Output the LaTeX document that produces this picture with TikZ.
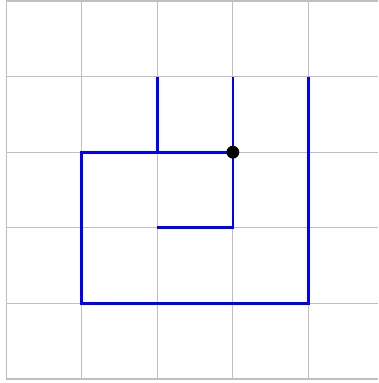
\documentclass[tikz,border=0pt]{standalone}
\begin{document}
\begin{tikzpicture}[x=1cm,y=1cm,
  gridline/.style={draw=black!25, line width=0.4pt},
  bluepath/.style={draw=blue, line width=1pt},
  dotnode/.style={circle, fill=black, inner sep=0pt, minimum size=0.17cm}]
\useasboundingbox (-0.08,-0.053) rectangle (4.92,5.013);
\foreach \i in {0,...,4} \draw[gridline] (\i,0) -- (\i,5);
\foreach \j in {0,...,5} \draw[gridline] (0,\j) -- (4.92,\j);
\coordinate (a1) at (2,4); \coordinate (a2) at (2,3);
\coordinate (b1) at (3,4); \coordinate (b2) at (3,2); \coordinate (b3) at (2,2);
\coordinate (c1) at (4,4); \coordinate (c2) at (4,1); \coordinate (c3) at (1,1);
\coordinate (c4) at (1,3); \coordinate (c5) at (3,3);
\draw[bluepath] (a1) -- (a2);
\draw[bluepath] (b1) -- (b2) -- (b3);
\draw[bluepath] (c1) -- (c2) -- (c3) -- (c4) -- (c5);
\node[dotnode] (dot) at (c5) {};
\end{tikzpicture}
\end{document}
